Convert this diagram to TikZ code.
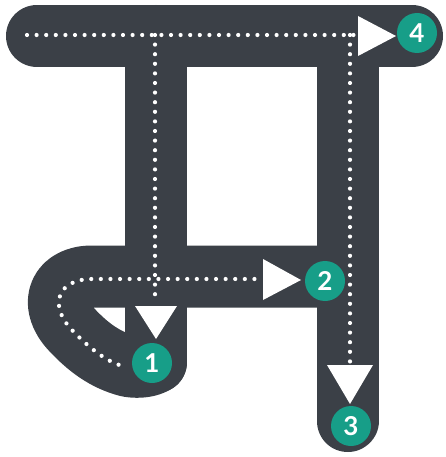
\documentclass[tikz,border=0pt]{standalone}
\usepackage{fontspec}
\setmainfont{Lato}
\definecolor{roadgray}{HTML}{3B4047}
\definecolor{numteal}{HTML}{179E88}
\begin{document}
\begin{tikzpicture}[x=1pt,y=-1pt,
  road/.style={line width=62pt, draw=roadgray, line cap=round, line join=round},
  dots/.style={draw=white, line width=4.2pt, line cap=round, dash pattern=on 0pt off 9.6pt},
  tipshape/.style={fill=white},
  num/.style={circle, fill=numteal, minimum size=40pt, inner sep=0pt, text=white,
    font=\bfseries\fontsize{26}{26}\selectfont}]
\useasboundingbox (0,0) rectangle (445,457);
% road body
\draw[road] (37,36) -- (412,36);
\draw[road] (156,36) -- (156,362);
\draw[road] (347.5,36) -- (347.5,421);
\draw[road] (347.5,276.5) -- (92,276.5)
  .. controls (58,276.5) and (48,305) .. (72,330)
  .. controls (88,347) and (105,360) .. (128,366)
  .. controls (140,368) and (150,366) .. (156,362);
% named points
\coordinate (s4) at (27,35);
\coordinate (e4) at (356,35);
\coordinate (s1) at (155,35);
\coordinate (e1) at (155,300);
\coordinate (s3) at (350,35);
\coordinate (e3) at (350,364);
\coordinate (s2) at (128,368);
\coordinate (e2) at (258,279);
% dotted guides
\draw[dots] (s4) -- (e4);
\draw[dots] (s1) -- (e1);
\draw[dots] (s3) -- (e3);
\draw[dots, shorten <=10pt] (s2) .. controls (105,360) and (88,347) .. (72,330)
  .. controls (48,305) and (58,279) .. (92,279) -- (e2);
% arrow tips
\fill[tipshape] (358,16) -- (358,56) -- (396,36) -- cycle;
\fill[tipshape] (263,259) -- (263,300) -- (301,280) -- cycle;
\fill[tipshape] (327,365) -- (373,365) -- (350,404) -- cycle;
\fill[tipshape] (135,306) -- (177,306) -- (156,339) -- cycle;
% numbers
\node[num] (c1) at (152,363) {1};
\node[num] (c2) at (325,281) {2};
\node[num] (c3) at (351,426) {3};
\node[num] (c4) at (417,33) {4};
\end{tikzpicture}
\end{document}
